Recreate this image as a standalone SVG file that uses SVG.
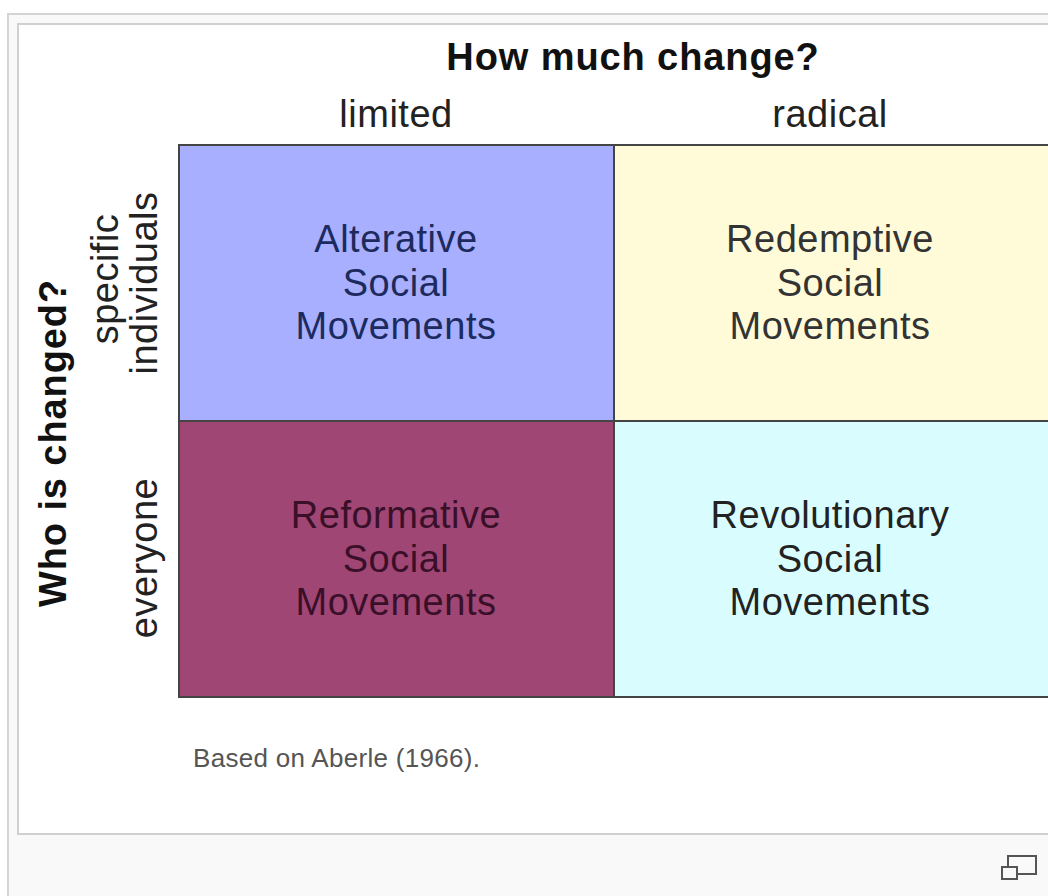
<svg xmlns="http://www.w3.org/2000/svg" width="1048" height="896" viewBox="0 0 1048 896">
<style>
text{font-family:"Liberation Sans",Arial,sans-serif;font-size:38px;text-anchor:middle;letter-spacing:0.5px}
.h{font-weight:bold;fill:#111;letter-spacing:0.9px}
.ax{fill:#222}
.cell{stroke:#444;stroke-width:2}
</style>
<rect x="0" y="0" width="1048" height="896" fill="#ffffff"/>
<rect x="8" y="14" width="1060" height="900" fill="#f9f9f9" stroke="#d4d4d4" stroke-width="2"/>
<rect x="18" y="24" width="1050" height="810" fill="#ffffff" stroke="#d0d0d0" stroke-width="2"/>
<g id="headers">
<text class="h" x="633" y="70">How much change?</text>
<text class="ax" x="396" y="127">limited</text>
<text class="ax" x="830" y="127">radical</text>
<text class="h" transform="translate(66,443) rotate(-90)">Who is changed?</text>
<text class="ax" transform="translate(118,279) rotate(-90)">specific</text>
<text class="ax" transform="translate(157,283) rotate(-90)">individuals</text>
<text class="ax" transform="translate(157,558) rotate(-90)">everyone</text>
</g>
<g id="alterative">
<rect class="cell" x="179" y="145" width="435" height="276" fill="#a7affe"/>
<text fill="#1c2a5e" x="396" y="252">Alterative</text>
<text fill="#1c2a5e" x="396" y="296">Social</text>
<text fill="#1c2a5e" x="396" y="339">Movements</text>
</g>
<g id="redemptive">
<rect class="cell" x="614" y="145" width="436" height="276" fill="#fffbd9"/>
<text fill="#333" x="830" y="252">Redemptive</text>
<text fill="#333" x="830" y="296">Social</text>
<text fill="#333" x="830" y="339">Movements</text>
</g>
<g id="reformative">
<rect class="cell" x="179" y="421" width="435" height="276" fill="#9f4675"/>
<text fill="#3a0f28" x="396" y="528">Reformative</text>
<text fill="#3a0f28" x="396" y="572">Social</text>
<text fill="#3a0f28" x="396" y="615">Movements</text>
</g>
<g id="revolutionary">
<rect class="cell" x="614" y="421" width="436" height="276" fill="#d9fdfe"/>
<text fill="#222" x="830" y="528">Revolutionary</text>
<text fill="#222" x="830" y="572">Social</text>
<text fill="#222" x="830" y="615">Movements</text>
</g>
<g id="connectors"></g>
<text x="193" y="767" style="font-size:26px;text-anchor:start;fill:#555;letter-spacing:0.3px">Based on Aberle (1966).</text>
<g id="icon" fill="none" stroke="#555" stroke-width="2">
<rect x="1008" y="856" width="28" height="18"/>
<rect x="1002" y="867" width="15" height="12" fill="#f9f9f9"/>
</g>
</svg>
